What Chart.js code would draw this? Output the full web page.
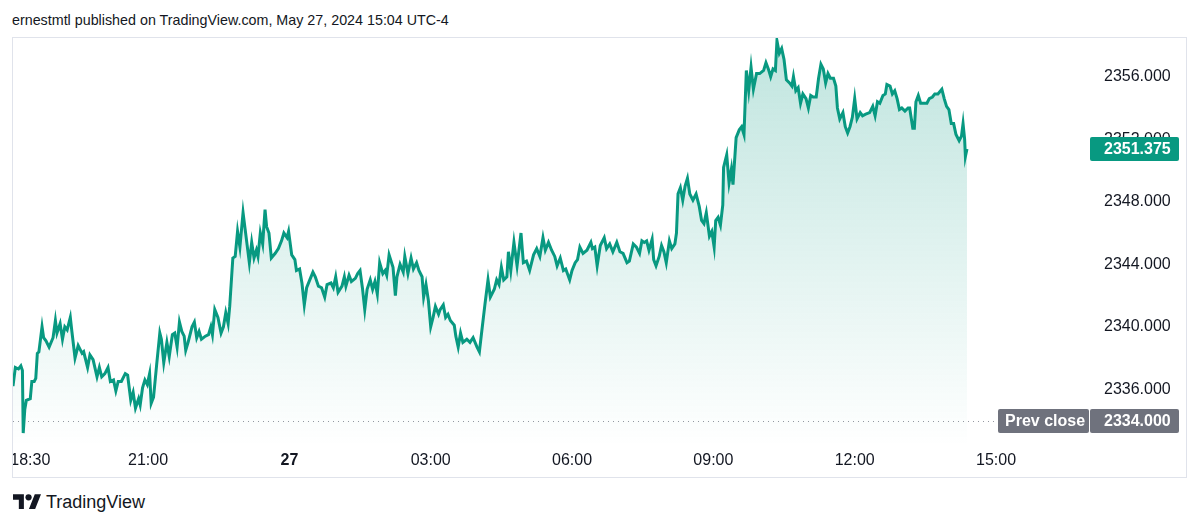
<!DOCTYPE html>
<html>
<head>
<meta charset="utf-8">
<title>XAUUSD intraday</title>
<script src="https://cdn.jsdelivr.net/npm/chart.js@4.4.1/dist/chart.umd.min.js"></script>
<style>
    html, body { margin: 0; padding: 0; background: #ffffff; }
    body { width: 1200px; height: 527px; position: relative; overflow: hidden; font-family: "Liberation Sans", Arial, sans-serif; color: #131722; }
    #header { position: absolute; left: 12px; top: 11px; font-size: 14.3px; line-height: 18px; white-space: nowrap; }
    #frame { position: absolute; left: 12px; top: 37px; width: 1173px; height: 439px; border: 1px solid #e0e3eb; }
    #wrap { position: absolute; left: 13px; top: 38px; width: 1173px; height: 439px; }
    #footer { position: absolute; left: 13px; top: 491px; height: 22px; display: flex; align-items: center; font-size: 18px; }
    #footer svg { margin-right: 5px; }
</style>
</head>
<body>
<div id="header">ernestmtl published on TradingView.com, May 27, 2024 15:04 UTC-4</div>
<div id="frame"></div>
<div id="wrap"><canvas id="priceChart" width="1173" height="439"></canvas></div>
<div id="footer">
    <svg width="28" height="22" viewBox="0 0 36 28"><path d="M14 23H7.5V11H0V4h14z M28.5 23h-8l7.5-19h8z" fill="#131722"/><circle cx="20" cy="8" r="4" fill="#131722"/></svg>
    <span>TradingView</span>
</div>
<script>
// minutes since 18:00 (May 26), last price per sample
const minutes = [
    8, 11, 15, 18, 20, 21, 23, 25, 30, 32, 35, 37, 39, 41, 45, 47, 50, 54, 59, 62,
    64, 68, 71, 74, 77, 81, 83, 87, 91, 96, 98, 103, 106, 110, 115, 118, 121, 125, 129, 132,
    136, 139, 142, 146, 151, 154, 156, 158, 161, 164, 168, 170, 173, 176, 179, 182, 184, 187, 191, 195,
    197, 200, 204, 207, 211, 214, 217, 220, 223, 226, 228, 231, 236, 239, 242, 245, 248, 253, 257, 260,
    262, 265, 269, 273, 276, 279, 282, 284, 288, 291, 294, 297, 301, 305, 309,
    312, 315, 318, 320, 323, 326, 329, 331, 334, 337, 342, 346, 350, 353, 357, 359, 363, 367, 369, 373,
    376, 379, 382, 386, 390, 393, 397, 401, 405, 408, 413, 416, 419, 422, 427, 430, 432, 436, 439, 444,
    447, 450, 453, 456, 459, 463, 466, 469, 472, 475, 479, 482, 484, 487, 492, 495, 497, 501, 505, 507,
    511, 515, 518, 522, 525, 529, 531, 534, 537, 540, 543, 546, 550, 552, 556, 559, 562, 565, 570, 572,
    575, 578, 581, 586, 590, 594, 599, 602, 605, 609, 613,
    616, 621, 624, 627, 630, 633, 637, 639, 642, 646, 650, 655, 658, 662, 666, 671, 675, 679, 683, 686,
    690, 694, 698, 701, 705, 709, 712, 717, 720, 724, 727, 730, 734, 739, 744, 746, 749, 752, 756, 761,
    764, 768, 772, 777, 781, 785, 790, 793, 798, 802, 806, 809, 812, 815, 818, 822, 824, 827, 831, 834,
    837, 840, 844, 847, 851, 853, 855, 858, 861, 864, 867, 870, 874, 878, 882, 885, 888, 891, 895, 898,
    901, 903, 906, 909, 912, 913, 917, 920, 923, 925, 929, 933,
    936, 939, 942, 945, 948, 951, 955, 959, 964, 967, 970, 973, 976, 979, 981, 984, 987, 990, 993, 997,
    1000, 1002, 1005, 1008, 1011, 1014, 1018, 1021, 1024, 1027, 1031, 1034, 1037, 1040, 1043, 1046, 1049, 1053, 1056, 1058,
    1061, 1065, 1068, 1071, 1074, 1077, 1080, 1083, 1087, 1090, 1094, 1099, 1103, 1106, 1109, 1112, 1116, 1119, 1121, 1125,
    1128, 1131, 1134, 1137, 1140, 1144, 1148, 1150, 1154, 1156, 1158, 1161, 1164, 1167, 1172, 1175, 1179, 1182, 1186, 1191,
    1194, 1197, 1200, 1203, 1206, 1209, 1213, 1216, 1218, 1220, 1221, 1223
];

const prices = [
    2336.2, 2337.4, 2337.3, 2337.5, 2337.2, 2333.2, 2334.7, 2335.3, 2335.4, 2336.5, 2336.5, 2336.7, 2338.3, 2338.4, 2340.0, 2339.3, 2339.1, 2338.7, 2339.3, 2340.4,
    2339.6, 2340.2, 2339.2, 2340.0, 2339.8, 2340.6, 2339.7, 2338.0, 2338.8, 2338.3, 2338.4, 2337.4, 2338.2, 2337.9, 2336.8, 2337.4, 2336.8, 2337.0, 2337.4, 2336.5,
    2336.6, 2335.9, 2336.5, 2336.5, 2337.0, 2336.9, 2336.1, 2335.3, 2335.8, 2334.8, 2335.4, 2335.0, 2336.1, 2336.6, 2336.3, 2337.0, 2335.1, 2335.5, 2337.6, 2339.6,
    2339.2, 2337.7, 2339.0, 2338.1, 2339.5, 2339.6, 2338.7, 2340.3, 2339.7, 2339.4, 2338.5, 2339.0, 2340.0, 2340.3, 2339.3, 2339.7, 2339.2, 2339.4, 2339.5, 2340.0,
    2339.5, 2341.1, 2340.6, 2339.6, 2340.0, 2340.9, 2340.2, 2341.3, 2344.4, 2344.5, 2346.1, 2345.1, 2347.3, 2345.7, 2344.1,
    2345.4, 2344.4, 2344.9, 2344.5, 2346.0, 2345.3, 2347.5, 2346.4, 2346.0, 2344.4, 2344.7, 2345.0, 2345.5, 2346.0, 2345.7, 2346.1, 2344.6, 2344.3, 2343.6, 2343.7,
    2342.8, 2341.4, 2342.5, 2343.0, 2343.5, 2343.2, 2342.6, 2342.5, 2341.9, 2342.7, 2342.8, 2342.5, 2343.2, 2342.2, 2342.6, 2343.2, 2342.6, 2343.3, 2342.9, 2343.1,
    2343.4, 2343.6, 2342.5, 2341.1, 2342.4, 2343.0, 2342.4, 2342.9, 2342.1, 2344.1, 2343.4, 2343.6, 2343.3, 2344.6, 2343.8, 2342.0, 2343.2, 2344.0, 2343.5, 2344.5,
    2343.4, 2344.4, 2343.7, 2344.1, 2343.6, 2343.2, 2341.9, 2342.7, 2341.7, 2340.0, 2340.6, 2341.3, 2340.8, 2341.1, 2341.4, 2340.6, 2340.8, 2340.4, 2340.1, 2339.4,
    2338.7, 2339.6, 2339.0, 2339.2, 2339.0, 2339.3, 2338.7, 2338.4, 2339.7, 2341.4, 2343.0,
    2341.9, 2342.4, 2343.0, 2342.7, 2343.8, 2343.0, 2343.2, 2344.8, 2343.6, 2345.4, 2343.9, 2346.0, 2344.1, 2344.2, 2343.6, 2344.6, 2345.0, 2344.5, 2345.7, 2344.9,
    2345.4, 2344.9, 2344.5, 2343.9, 2344.4, 2343.6, 2343.7, 2343.0, 2343.6, 2344.1, 2344.3, 2345.1, 2344.7, 2344.9, 2345.4, 2345.0, 2345.1, 2343.9, 2345.2, 2345.7,
    2345.0, 2345.3, 2344.8, 2345.4, 2344.8, 2344.7, 2344.1, 2344.2, 2345.3, 2345.1, 2344.7, 2345.5, 2345.4, 2345.5, 2344.9, 2345.6, 2344.3, 2343.9, 2344.5, 2345.2,
    2344.8, 2344.1, 2345.5, 2345.0, 2345.3, 2346.0, 2348.5, 2348.9, 2348.1, 2349.0, 2349.5, 2348.5, 2348.1, 2348.5, 2347.7, 2346.8, 2346.6, 2347.3, 2345.8, 2346.1,
    2345.1, 2346.8, 2347.0, 2346.5, 2347.8, 2350.2, 2351.0, 2349.2, 2350.1, 2349.1, 2352.1, 2352.6,
    2352.8, 2352.3, 2356.4, 2355.1, 2356.6, 2355.2, 2356.2, 2356.2, 2356.4, 2356.9, 2356.5, 2356.0, 2356.5, 2356.4, 2358.3, 2357.5, 2357.8, 2357.1, 2355.8, 2355.6,
    2355.4, 2356.0, 2355.1, 2355.3, 2354.3, 2354.9, 2354.6, 2354.0, 2354.8, 2354.7, 2354.7, 2355.9, 2356.8, 2356.5, 2355.6, 2356.2, 2355.9, 2355.9, 2355.4, 2354.0,
    2353.3, 2353.7, 2352.8, 2352.4, 2352.8, 2353.4, 2354.6, 2353.3, 2353.7, 2353.5, 2353.6, 2353.7, 2354.1, 2353.5, 2354.4, 2354.3, 2354.8, 2354.9, 2355.5, 2355.4,
    2354.9, 2355.1, 2354.6, 2353.9, 2354.0, 2353.8, 2354.0, 2354.0, 2352.7, 2352.7, 2354.4, 2354.8, 2354.3, 2354.3, 2354.3, 2354.6, 2354.7, 2354.9, 2354.9, 2355.2,
    2354.6, 2354.1, 2353.9, 2353.0, 2353.0, 2352.3, 2351.9, 2352.2, 2353.0, 2352.0, 2350.9, 2351.375
];

// time axis labels (minutes since 18:00)
const timeTicks = [30, 180, 360, 540, 720, 900, 1080, 1260];
const timeLabels = ["18:30", "21:00", "27", "03:00", "06:00", "09:00", "12:00", "15:00"];

const priceTicks = [2336, 2340, 2344, 2348, 2352, 2356];
const prevClose = 2334;
const lastPrice = prices[prices.length - 1];

const GREEN = "#089981";
const FONT = "'Liberation Sans', Arial, sans-serif";

// no label overflow padding, the plot has to fill the frame
function noPadding(scale) {
    scale.paddingLeft = 0;
    scale.paddingRight = 0;
    scale.paddingTop = 0;
    scale.paddingBottom = 0;
}

// dotted prev close line + price labels on the right
const overlayPlugin = {
    id: "overlay",
    beforeDatasetsDraw(chart) {
        const { ctx, chartArea, scales } = chart;
        const py = Math.round(scales.y.getPixelForValue(prevClose)) + 0.5;
        ctx.save();
        ctx.strokeStyle = "#9598a1";
        ctx.lineWidth = 1;
        ctx.setLineDash([1, 4]);
        ctx.beginPath();
        ctx.moveTo(chartArea.left, py);
        ctx.lineTo(chartArea.right - 84, py);
        ctx.stroke();
        ctx.restore();
    },
    afterDraw(chart) {
        const { ctx, chartArea, scales } = chart;
        const textX = chartArea.right + 22;

        function box(x, yc, w, color) {
            ctx.fillStyle = color;
            ctx.beginPath();
            ctx.roundRect(x, Math.round(yc) - 12, w, 24, 2);
            ctx.fill();
        }

        ctx.save();
        ctx.font = "bold 16px " + FONT;
        ctx.textBaseline = "middle";
        ctx.textAlign = "left";

        // last price
        const ly = scales.y.getPixelForValue(lastPrice);
        box(chartArea.right + 8, ly, 89, GREEN);
        ctx.fillStyle = "#ffffff";
        ctx.fillText(lastPrice.toFixed(3), textX, Math.round(ly) + 1);

        // prev close
        const cy = scales.y.getPixelForValue(prevClose);
        box(chartArea.right - 84, cy, 91, "#6f727d");
        box(chartArea.right + 8, cy, 89, "#6f727d");
        ctx.fillStyle = "#ffffff";
        ctx.fillText("Prev close", chartArea.right - 77, Math.round(cy) + 1);
        ctx.fillText(prevClose.toFixed(3), textX, Math.round(cy) + 1);
        ctx.restore();
    }
};

const ctx = document.getElementById("priceChart").getContext("2d");

new Chart(ctx, {
    type: "line",
    data: {
        datasets: [{
            label: "XAUUSD",
            data: minutes.map((m, i) => ({ x: m, y: prices[i] })),
            borderColor: GREEN,
            borderWidth: 3,
            pointRadius: 0,
            tension: 0,
            fill: "start",
            backgroundColor: (c) => {
                const area = c.chart.chartArea;
                if (!area) return "rgba(8,153,129,0.1)";
                const g = c.chart.ctx.createLinearGradient(0, area.top, 0, area.bottom);
                g.addColorStop(0, "rgba(8,153,129,0.26)");
                g.addColorStop(1, "rgba(8,153,129,0.0)");
                return g;
            }
        }]
    },
    options: {
        responsive: false,
        animation: false,
        layout: { padding: 0, autoPadding: false },
        plugins: {
            legend: { display: false },
            tooltip: { enabled: false }
        },
        scales: {
            x: {
                type: "linear",
                min: 8,
                max: 1369.5,
                grid: { display: false, drawTicks: false },
                border: { display: false },
                afterBuildTicks: (scale) => { scale.ticks = timeTicks.map(v => ({ value: v })); },
                afterFit: (scale) => { scale.height = 31; noPadding(scale); },
                ticks: {
                    autoSkip: false,
                    maxRotation: 0,
                    padding: 5,
                    color: "#131722",
                    font: (c) => ({ family: FONT, size: 16, weight: c.tick && c.tick.value === 360 ? "bold" : "normal" }),
                    callback: (value, index) => timeLabels[index]
                }
            },
            y: {
                position: "right",
                min: 2332.372,
                max: 2358.476,
                grid: { display: false, drawTicks: false },
                border: { display: false },
                afterBuildTicks: (scale) => { scale.ticks = priceTicks.map(v => ({ value: v })); },
                afterFit: (scale) => { scale.width = 104; noPadding(scale); },
                ticks: {
                    padding: 22,
                    color: "#131722",
                    font: { family: FONT, size: 16 },
                    callback: (value) => Number(value).toFixed(3)
                }
            }
        }
    },
    plugins: [overlayPlugin]
});
</script>
</body>
</html>
